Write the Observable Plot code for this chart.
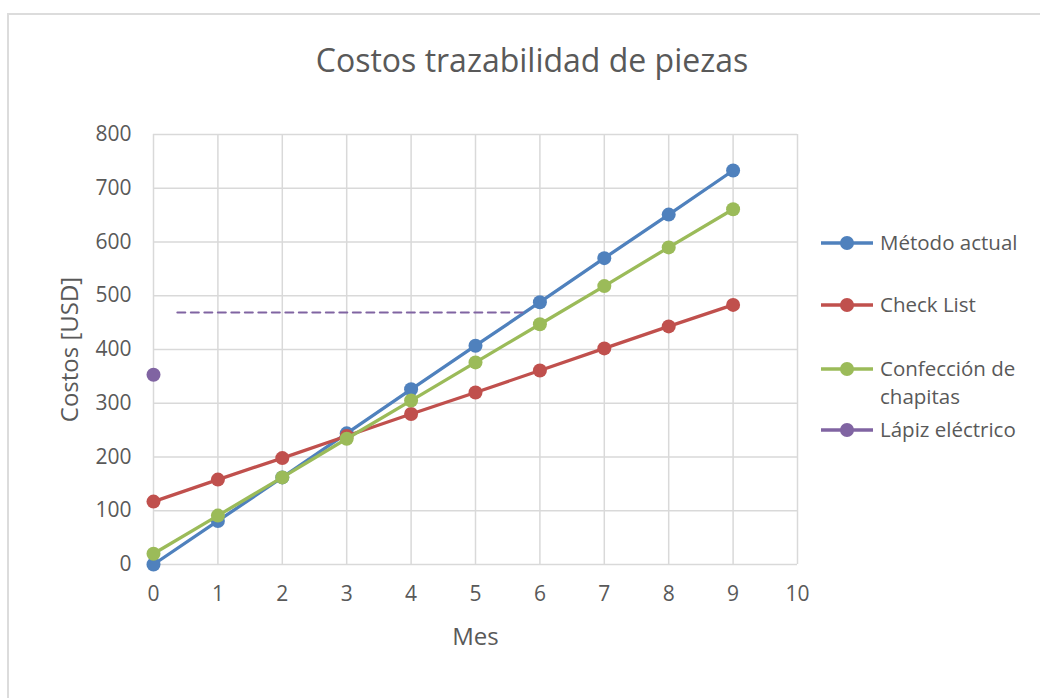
<!DOCTYPE html>
<html><head><meta charset="utf-8">
<script src="https://cdn.jsdelivr.net/npm/d3@7"></script>
<script src="https://cdn.jsdelivr.net/npm/@observablehq/plot@0.6"></script>
<style>
body{margin:0;background:#fff;}
#wrap{position:relative;width:1040px;height:698px;overflow:hidden;font-family:"Open Sans",Lato,sans-serif;color:#595959;}
#frame{position:absolute;left:7px;top:13px;width:1100px;height:800px;border:2px solid #DCDCDC;box-sizing:border-box;}
#title{position:absolute;left:0;width:1064px;top:38px;text-align:center;font-size:32px;line-height:44px;}
#legend{position:absolute;left:820px;top:0;width:220px;font-size:20.5px;}
.item{position:absolute;left:0;display:flex;align-items:flex-start;}
.item svg{flex:none;margin-top:8px;}
.item span{margin-left:6px;line-height:28px;white-space:nowrap;}
#chart{position:absolute;left:0;top:0;}
</style></head><body>
<div id="wrap"><div id="frame"></div><div id="chart"></div><div id="title"></div><div id="legend"></div></div>
<script>
const titulo = "Costos trazabilidad de piezas";
const meses = [0, 1, 2, 3, 4, 5, 6, 7, 8, 9];
const metodoActual = [0, 81, 162, 244, 326, 407, 488, 570, 651, 733];
const checkList = [117, 158, 198, 239, 280, 320, 361, 402, 443, 483];
const confeccion = [20, 91, 162, 234, 305, 376, 447, 518, 590, 661];
const lapizMes = [0];
const lapiz = [353];
const lapizRefMes = [0.37, 5.73];
const lapizRefCosto = [469, 469];
const series = ["Método actual", "Check List", "Confección de chapitas", "Lápiz eléctrico"];
const colores = ["#4F81BD", "#C0504D", "#9BBB59", "#8064A2"];
const xTicks = [0, 1, 2, 3, 4, 5, 6, 7, 8, 9, 10];
const yTicks = [0, 100, 200, 300, 400, 500, 600, 700, 800];

const valores = [metodoActual, checkList, confeccion, lapiz];
const mesesPorSerie = [meses, meses, meses, lapizMes];
const datos = series.map((s, i) => mesesPorSerie[i].map((m, j) => ({serie: s, mes: m, costo: valores[i][j]})));
const ref = lapizRefMes.map((m, j) => ({mes: m, costo: lapizRefCosto[j]}));

const serieMarks = datos.flatMap((d, i) => [
  Plot.line(d, {x: "mes", y: "costo", stroke: colores[i], strokeWidth: 3.3}),
  Plot.dot(d, {x: "mes", y: "costo", fill: colores[i], r: 7})
]);

const chart = Plot.plot({
  width: 1040, height: 698,
  marginLeft: 153, marginRight: 243, marginTop: 134, marginBottom: 134,
  style: {fontFamily: '"Open Sans", Lato, sans-serif', fontSize: "21px", color: "#595959", background: "transparent", overflow: "visible"},
  x: {domain: [0, 10]},
  y: {domain: [0, 800]},
  marks: [
    Plot.gridX(xTicks, {stroke: "#D9D9D9", strokeOpacity: 1, strokeWidth: 1.5}),
    Plot.gridY(yTicks, {stroke: "#D9D9D9", strokeOpacity: 1, strokeWidth: 1.5}),
    Plot.axisX(xTicks, {tickSize: 0, tickPadding: 22, fontSize: 21, label: null}),
    Plot.axisY(yTicks, {tickSize: 0, tickPadding: 22, fontSize: 21, label: null}),
    Plot.axisX([], {tickSize: 0, fontSize: 24, label: "Mes", labelAnchor: "center", labelOffset: 80, labelArrow: "none"}),
    Plot.axisY([], {tickSize: 0, fontSize: 24, label: "Costos [USD]", labelAnchor: "center", labelOffset: 93, labelArrow: "none"}),
    ...serieMarks,
    Plot.line(ref, {x: "mes", y: "costo", stroke: colores[3], strokeWidth: 2, strokeDasharray: "8,5.5"})
  ]
});
document.getElementById("chart").appendChild(chart);
document.getElementById("title").textContent = titulo;

const legendY = [228, 290, 354, 415];
const legendLabels = ["Método actual", "Check List", "Confección de<br>chapitas", "Lápiz eléctrico"];
const lg = document.getElementById("legend");
series.forEach((s, i) => {
  const div = document.createElement("div");
  div.className = "item";
  div.style.top = legendY[i] + "px";
  div.innerHTML = `<svg width="54" height="14"><line x1="1" x2="53" y1="7" y2="7" stroke="${colores[i]}" stroke-width="3.3"/><circle cx="27" cy="7" r="7" fill="${colores[i]}"/></svg><span>${legendLabels[i]}</span>`;
  lg.appendChild(div);
});
</script>
</body></html>
